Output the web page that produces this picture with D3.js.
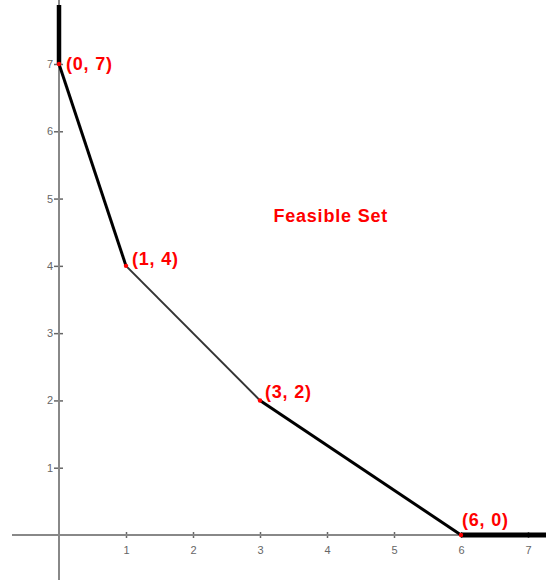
<!DOCTYPE html>
<html>
<head>
<meta charset="utf-8">
<script src="https://cdn.jsdelivr.net/npm/d3@7"></script>
<style>
  body { margin: 0; background: #fff; }
  svg { display: block; }
</style>
</head>
<body>
<div id="chart"></div>
<script>
// vertices of the feasible set boundary
const cornerX = [0, 1, 3, 6];
const cornerY = [7, 4, 2, 0];
const cornerLabels = ["(0, 7)", "(1, 4)", "(3, 2)", "(6, 0)"];
const xTicks = [1, 2, 3, 4, 5, 6, 7];
const yTicks = [1, 2, 3, 4, 5, 6, 7];
const regionLabel = "Feasible Set";

const width = 546, height = 580;
const x = d3.scaleLinear().domain([0, 7]).range([59, 528]);
const y = d3.scaleLinear().domain([0, 7]).range([535, 64]);

const svg = d3.select("#chart").append("svg")
    .attr("width", width)
    .attr("height", height);

// axes cross at origin
const xAxis = svg.append("g")
    .attr("transform", `translate(0,${y(0)})`)
    .call(d3.axisBottom(x).tickValues(xTicks).tickSize(3).tickPadding(8).tickFormat(d3.format("d")));
xAxis.select(".domain").remove();
xAxis.selectAll(".tick line").attr("y1", -3).attr("stroke", "#666").attr("stroke-width", 1.5);

const yAxis = svg.append("g")
    .attr("transform", `translate(${x(0)},0)`)
    .call(d3.axisLeft(y).tickValues(yTicks).tickSize(5).tickPadding(1).tickFormat(d3.format("d")));
yAxis.select(".domain").remove();
yAxis.selectAll(".tick line").attr("x1", 4).attr("x2", -5).attr("stroke", "#666").attr("stroke-width", 1.5);

svg.selectAll(".tick text")
    .attr("fill", "#666")
    .style("font", "11px 'Liberation Sans', Arial, sans-serif");

svg.append("line")
    .attr("x1", 12).attr("x2", width)
    .attr("y1", y(0)).attr("y2", y(0))
    .attr("stroke", "#888").attr("stroke-width", 2);
svg.append("line")
    .attr("x1", x(0)).attr("x2", x(0))
    .attr("y1", 0).attr("y2", height)
    .attr("stroke", "#888").attr("stroke-width", 2);

// boundary: vertical ray, three edges, horizontal ray
const yTop = y.invert(5), xEnd = x.invert(width);
const segs = [[0, yTop, cornerX[0], cornerY[0]]];
for (let i = 0; i < cornerX.length - 1; i++) {
  segs.push([cornerX[i], cornerY[i], cornerX[i + 1], cornerY[i + 1]]);
}
segs.push([cornerX[3], cornerY[3], xEnd, 0]);
const segWidth = [4.5, 3, 2, 3, 5];
const segColor = ["#000", "#000", "#333", "#000", "#000"];

svg.selectAll(".edge").data(segs).join("line")
    .attr("class", "edge")
    .attr("x1", d => x(d[0])).attr("y1", d => y(d[1]))
    .attr("x2", d => x(d[2])).attr("y2", d => y(d[3]))
    .attr("stroke", (d, i) => segColor[i])
    .attr("stroke-width", (d, i) => segWidth[i]);

svg.selectAll(".corner").data(cornerX).join("circle")
    .attr("class", "corner")
    .attr("cx", d => x(d))
    .attr("cy", (d, i) => y(cornerY[i]))
    .attr("r", 2.2)
    .attr("fill", "red");

const labelDx = [7, 6, 5, 1];
const labelDy = [6, -1, -2, -9];
svg.selectAll(".clabel").data(cornerLabels).join("text")
    .attr("class", "clabel")
    .attr("x", (d, i) => x(cornerX[i]) + labelDx[i])
    .attr("y", (d, i) => y(cornerY[i]) + labelDy[i])
    .attr("fill", "red")
    .style("font", "bold 18px 'Liberation Sans', Arial, sans-serif")
    .style("letter-spacing", "0.8px")
    .text(d => d);

svg.append("text")
    .attr("x", x(3.2))
    .attr("y", y(4.65))
    .attr("fill", "red")
    .style("font", "bold 18px 'Liberation Sans', Arial, sans-serif")
    .style("letter-spacing", "0.8px")
    .text(regionLabel);
</script>
</body>
</html>
